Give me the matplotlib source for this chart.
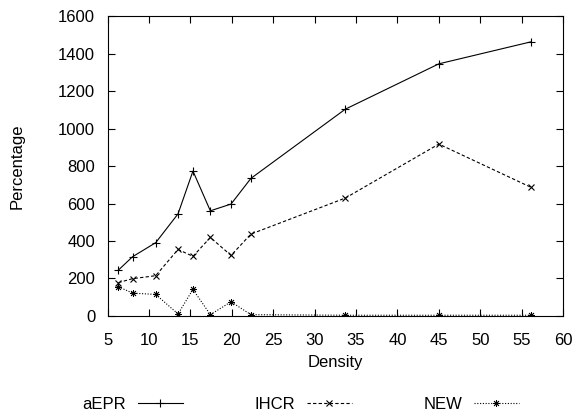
import matplotlib
matplotlib.use("Agg")
import matplotlib.pyplot as plt

plt.rcParams['font.family'] = ['Liberation Sans', 'DejaVu Sans']

density = [6.3, 8.0, 10.8, 13.5, 15.3, 17.4, 19.9, 22.3, 33.7, 45.0, 56.1]
aepr = [245, 316, 391, 545, 773, 561, 597, 734, 1103, 1345, 1462]
ihcr = [178, 199, 215, 355, 318, 419, 323, 437, 629, 917, 687]
new = [156, 122, 115, 11, 142, 7, 76, 7, 4, 4, 4]

fig = plt.figure(figsize=(5.78, 4.16), dpi=100)
ax = fig.add_axes([0.1863, 0.2404, 0.7878, 0.7211])

ax.plot(density, aepr, color='black', lw=0.8, ls='-', marker='+', ms=6, mew=0.8, label='aEPR')
ax.plot(density, ihcr, color='black', lw=0.8, ls=(0, (3, 2)), marker='x', ms=5, mew=0.8, label='IHCR')
ax.plot(density, new, color='black', lw=0.8, ls=(0, (1, 1.5)), marker=(8, 2, 0), ms=5, mew=0.6, label='NEW')

ax.set_xlim(5, 60)
ax.set_ylim(0, 1600)
ax.set_xticks(range(5, 61, 5))
ax.set_yticks(range(0, 1601, 200))
ax.tick_params(direction='in', top=True, right=True, length=5, labelsize=12)
ax.tick_params(axis='x', pad=12)
ax.tick_params(axis='y', pad=9)
for s in ax.spines.values():
    s.set_linewidth(0.8)

ax.set_xlabel("Density", fontsize=12, labelpad=5)
ax.set_ylabel("Percentage", fontsize=12, labelpad=24)

fig.legend(loc='center', bbox_to_anchor=(0.52, 0.028), ncol=3, frameon=False,
           markerfirst=False, fontsize=12, handlelength=2.7, handletextpad=0.7,
           columnspacing=4.3)

fig.savefig("out.png", dpi=100)
